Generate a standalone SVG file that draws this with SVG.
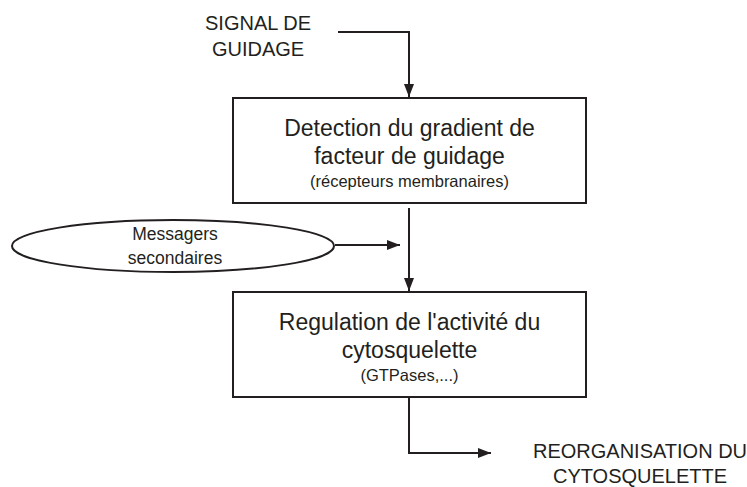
<svg xmlns="http://www.w3.org/2000/svg" width="747" height="487" viewBox="0 0 747 487">
<defs>
<style>
.box{fill:#fff;stroke:#231f20;stroke-width:2}
.conn{fill:none;stroke:#231f20;stroke-width:2}
.t{font-family:"Liberation Sans","Open Sans",sans-serif;fill:#231f20;text-anchor:middle}
.big{font-size:23px}
.small{font-size:16.5px}
.lbl{font-size:20px}
.ell{font-size:17.5px}
</style>
<marker id="arr" markerWidth="14" markerHeight="12" refX="13" refY="6" orient="auto" markerUnits="userSpaceOnUse">
<path d="M0,1 L13,6 L0,11 Z" fill="#231f20"/>
</marker>
</defs>
<rect width="747" height="487" fill="#fff"/>
<g id="connectors">
<path class="conn" d="M338,32 H409 V97" marker-end="url(#arr)"/>
<path class="conn" d="M335,245 H400" marker-end="url(#arr)"/>
<path class="conn" d="M409,208 V291" marker-end="url(#arr)"/>
<path class="conn" d="M409,397 V453 H491" marker-end="url(#arr)"/>
</g>
<g id="signal">
<text class="t lbl" x="258" y="30">SIGNAL DE</text>
<text class="t lbl" x="258" y="56">GUIDAGE</text>
</g>
<g id="detection">
<rect class="box" x="233" y="98" width="353" height="105"/>
<text class="t big" x="409.5" y="136">Detection du gradient de</text>
<text class="t big" x="409.5" y="164">facteur de guidage</text>
<text class="t small" x="409.5" y="187">(récepteurs membranaires)</text>
</g>
<g id="messagers">
<ellipse cx="173" cy="246" rx="161" ry="26" fill="#fff" stroke="#231f20" stroke-width="2"/>
<text class="t ell" x="175" y="240">Messagers</text>
<text class="t ell" x="175" y="264">secondaires</text>
</g>
<g id="regulation">
<rect class="box" x="233" y="292" width="353" height="105"/>
<text class="t big" x="409.5" y="330">Regulation de l'activité du</text>
<text class="t big" x="409.5" y="358">cytosquelette</text>
<text class="t small" x="409.5" y="381">(GTPases,...)</text>
</g>
<g id="reorganisation">
<text class="t lbl" x="640" y="458">REORGANISATION DU</text>
<text class="t lbl" x="640" y="483">CYTOSQUELETTE</text>
</g>
</svg>
